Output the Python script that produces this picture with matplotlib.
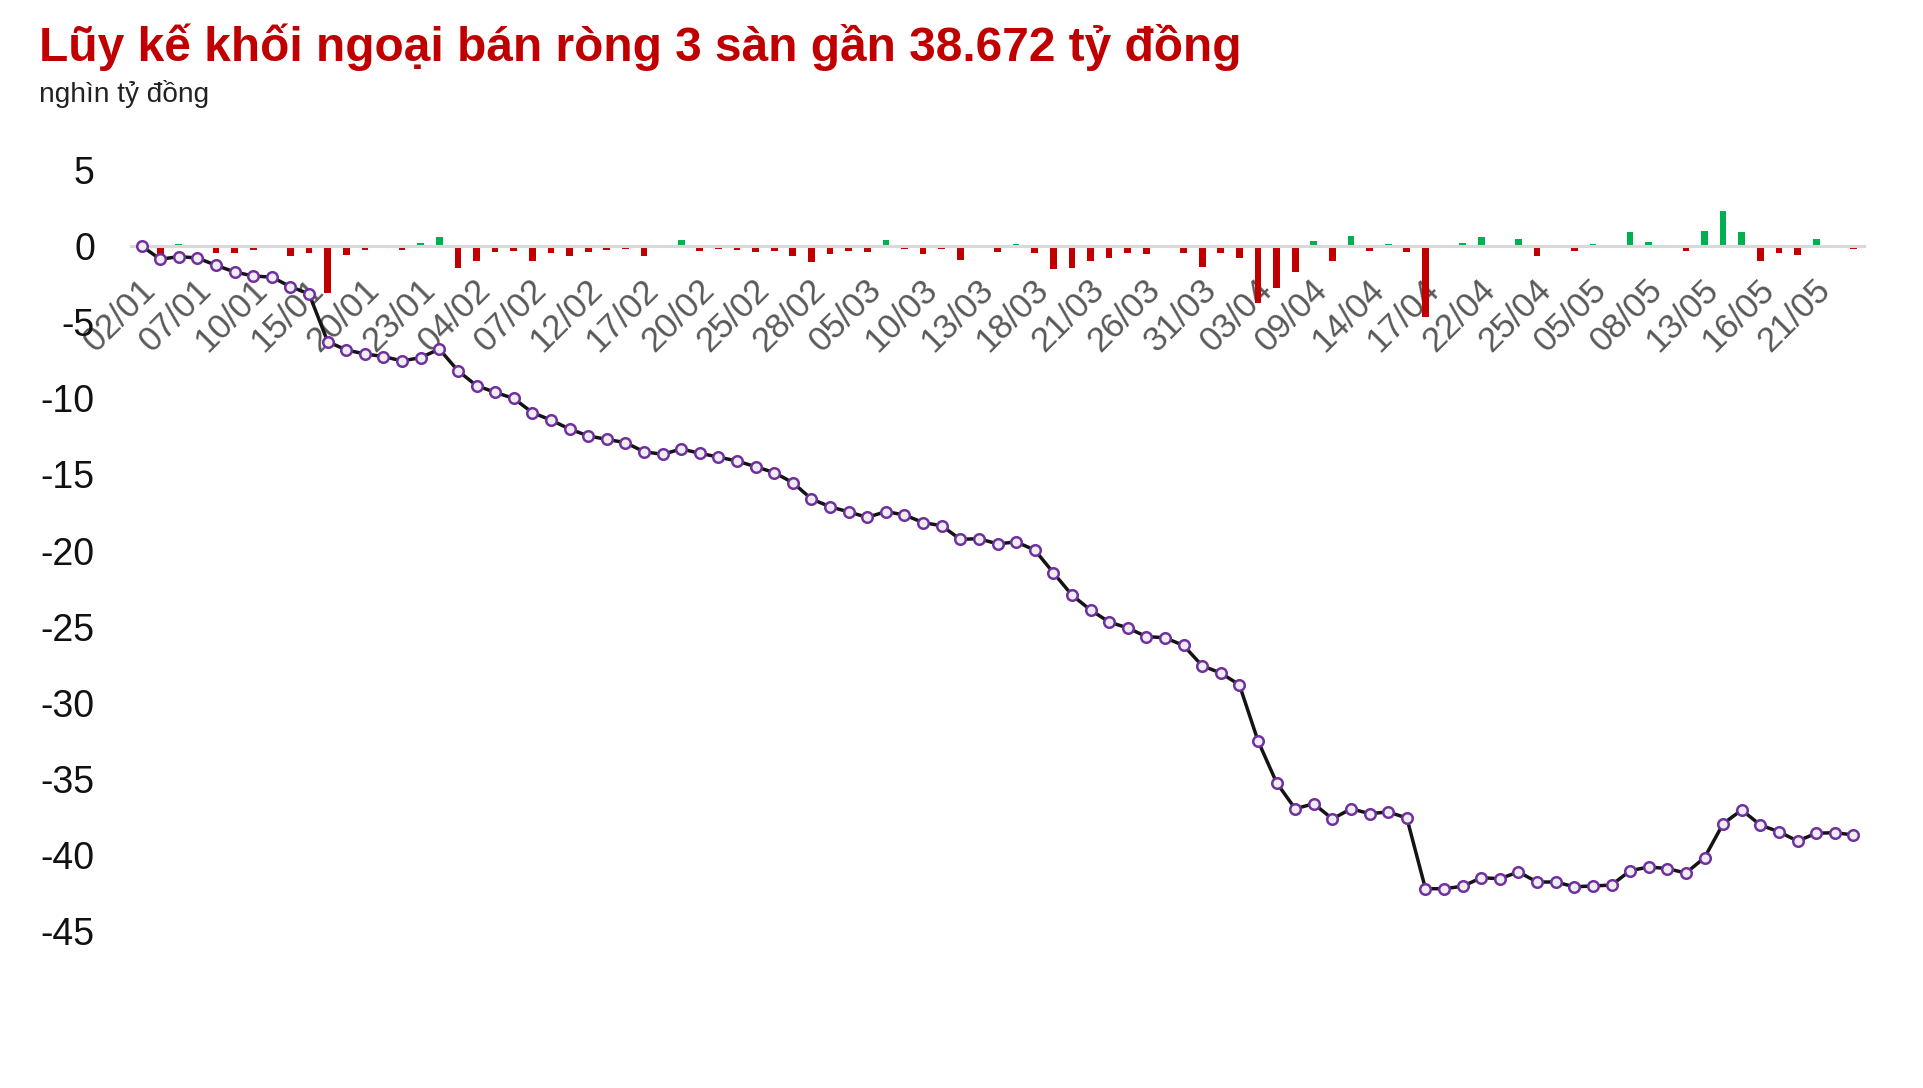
import matplotlib
matplotlib.use("Agg")
import matplotlib.pyplot as plt
import matplotlib.transforms as mtransforms
import numpy as np

plt.rcParams['font.family'] = ['Liberation Sans', 'DejaVu Sans']

# ---------------- data ----------------
title = "Lũy kế khối ngoại bán ròng 3 sàn gần 38.672 tỷ đồng"
subtitle = "nghìn tỷ đồng"

dates = ["02/01", "03/01", "06/01", "07/01", "08/01", "09/01", "10/01", "13/01", "14/01", "15/01",
         "16/01", "17/01", "20/01", "21/01", "22/01", "23/01", "24/01", "03/02", "04/02", "05/02",
         "06/02", "07/02", "10/02", "11/02", "12/02", "13/02", "14/02", "17/02", "18/02", "19/02",
         "20/02", "21/02", "24/02", "25/02", "26/02", "27/02", "28/02", "03/03", "04/03", "05/03",
         "06/03", "07/03", "10/03", "11/03", "12/03", "13/03", "14/03", "17/03", "18/03", "19/03",
         "20/03", "21/03", "24/03", "25/03", "26/03", "27/03", "28/03", "31/03", "01/04", "02/04",
         "03/04", "04/04", "08/04", "09/04", "10/04", "11/04", "14/04", "15/04", "16/04", "17/04",
         "18/04", "21/04", "22/04", "23/04", "24/04", "25/04", "28/04", "29/04", "05/05", "06/05",
         "07/05", "08/05", "09/05", "12/05", "13/05", "14/05", "15/05", "16/05", "19/05", "20/05",
         "21/05", "22/05", "23/05"]

# daily net buy(+)/sell(-) of foreign investors, thousand bn VND
net_daily = [0.00, -0.61, 0.11, -0.05, -0.46, -0.46, -0.24, -0.05, -0.66, -0.46,
             -3.09, -0.59, -0.24, -0.11, -0.24, 0.18, 0.59, -1.44, -0.98, -0.39,
             -0.33, -0.98, -0.46, -0.66, -0.42, -0.26, -0.20, -0.66, -0.13, 0.37,
             -0.33, -0.20, -0.26, -0.42, -0.33, -0.66, -1.05, -0.53, -0.33, -0.39,
             0.37, -0.20, -0.53, -0.20, -0.92, 0.03, -0.42, 0.11, -0.46, -1.51,
             -1.44, -0.98, -0.79, -0.46, -0.53, -0.13, -0.46, -1.38, -0.46, -0.79,
             -3.74, -2.76, -1.71, 0.31, -0.98, 0.63, -0.33, 0.11, -0.39, -4.66,
             -0.02, 0.18, 0.57, -0.13, 0.44, -0.66, 0.02, -0.33, 0.11, 0.05,
             0.90, 0.24, -0.05, -0.33, 0.96, 2.28, 0.90, -0.98, -0.46, -0.59,
             0.44, 0.03, -0.20]

# cumulative net position
cumulative = [0.00, -0.87, -0.70, -0.79, -1.27, -1.71, -1.97, -2.05, -2.67, -3.15,
              -6.28, -6.83, -7.09, -7.26, -7.55, -7.33, -6.77, -8.19, -9.17, -9.61,
              -10.01, -10.94, -11.43, -12.02, -12.47, -12.70, -12.91, -13.51, -13.68, -13.33,
              -13.61, -13.86, -14.12, -14.49, -14.88, -15.54, -16.61, -17.12, -17.46, -17.82,
              -17.44, -17.66, -18.16, -18.37, -19.26, -19.22, -19.56, -19.43, -19.96, -21.45,
              -22.92, -23.90, -24.69, -25.08, -25.65, -25.72, -26.23, -27.56, -28.04, -28.81,
              -32.49, -35.24, -36.95, -36.62, -37.62, -36.95, -37.27, -37.16, -37.56, -42.20,
              -42.20, -42.04, -41.48, -41.54, -41.10, -41.76, -41.76, -42.07, -42.02, -41.96,
              -41.02, -40.77, -40.88, -41.17, -40.16, -37.93, -37.03, -38.02, -38.46, -39.07,
              -38.56, -38.52, -38.67]

y_ticks = [5, 0, -5, -10, -15, -20, -25, -30, -35, -40, -45]
label_step = 3

# ---------------- style ----------------
RED = "#c00000"
GREEN = "#00b050"
PURPLE = "#7030a0"

W, H = 1923, 1088
fig = plt.figure(figsize=(W / 100, H / 100), dpi=100)
fig.patch.set_facecolor("white")

ax = fig.add_axes([131 / W, 128 / H, (1864 - 131) / W, 810 / H])
ax.set_facecolor("white")

x = np.arange(len(dates))
bar_colors = [GREEN if v >= 0 else RED for v in net_daily]
ax.bar(x, net_daily, width=0.36, color=bar_colors, zorder=2)
ax.plot(x, cumulative, color="#141414", lw=2.5, marker="o", ms=7.6,
        mfc="#ededf2", mec=PURPLE, mew=1.8, zorder=4)

ax.set_xlim(-0.57, len(dates) - 1 + 0.57)
ax.set_ylim(-46.88, 6.30)

ax.set_yticks(y_ticks)
ax.set_yticklabels([f"{t}" for t in y_ticks])
ax.set_xticks([])

for s in ("top", "right", "left"):
    ax.spines[s].set_visible(False)
ax.spines["bottom"].set_position(("data", 0))
ax.spines["bottom"].set_color("#d9d9d9")
ax.spines["bottom"].set_linewidth(2.2)
ax.spines["bottom"].set_zorder(3)

ax.tick_params(axis="y", length=0, pad=26, labelsize=27, labelcolor="#111111")

# rotated date labels just below the zero line
offset = mtransforms.ScaledTranslation(9 / 100, -39 / 100, fig.dpi_scale_trans)
for xi, lab in zip(x[::label_step], dates[::label_step]):
    ax.text(xi, 0, lab, transform=ax.transData + offset, rotation=45,
            rotation_mode="anchor", ha="right", va="center",
            fontsize=25, color="#595959", zorder=1, clip_on=False)

fig.text(39 / W, 1 - 61 / H, title, fontsize=34.5, fontweight="bold",
         color=RED, ha="left", va="baseline")
fig.text(39 / W, 1 - 101.5 / H, subtitle, fontsize=20.2, color="#222222",
         ha="left", va="baseline")

fig.savefig("out.png", dpi=100, facecolor="white")
